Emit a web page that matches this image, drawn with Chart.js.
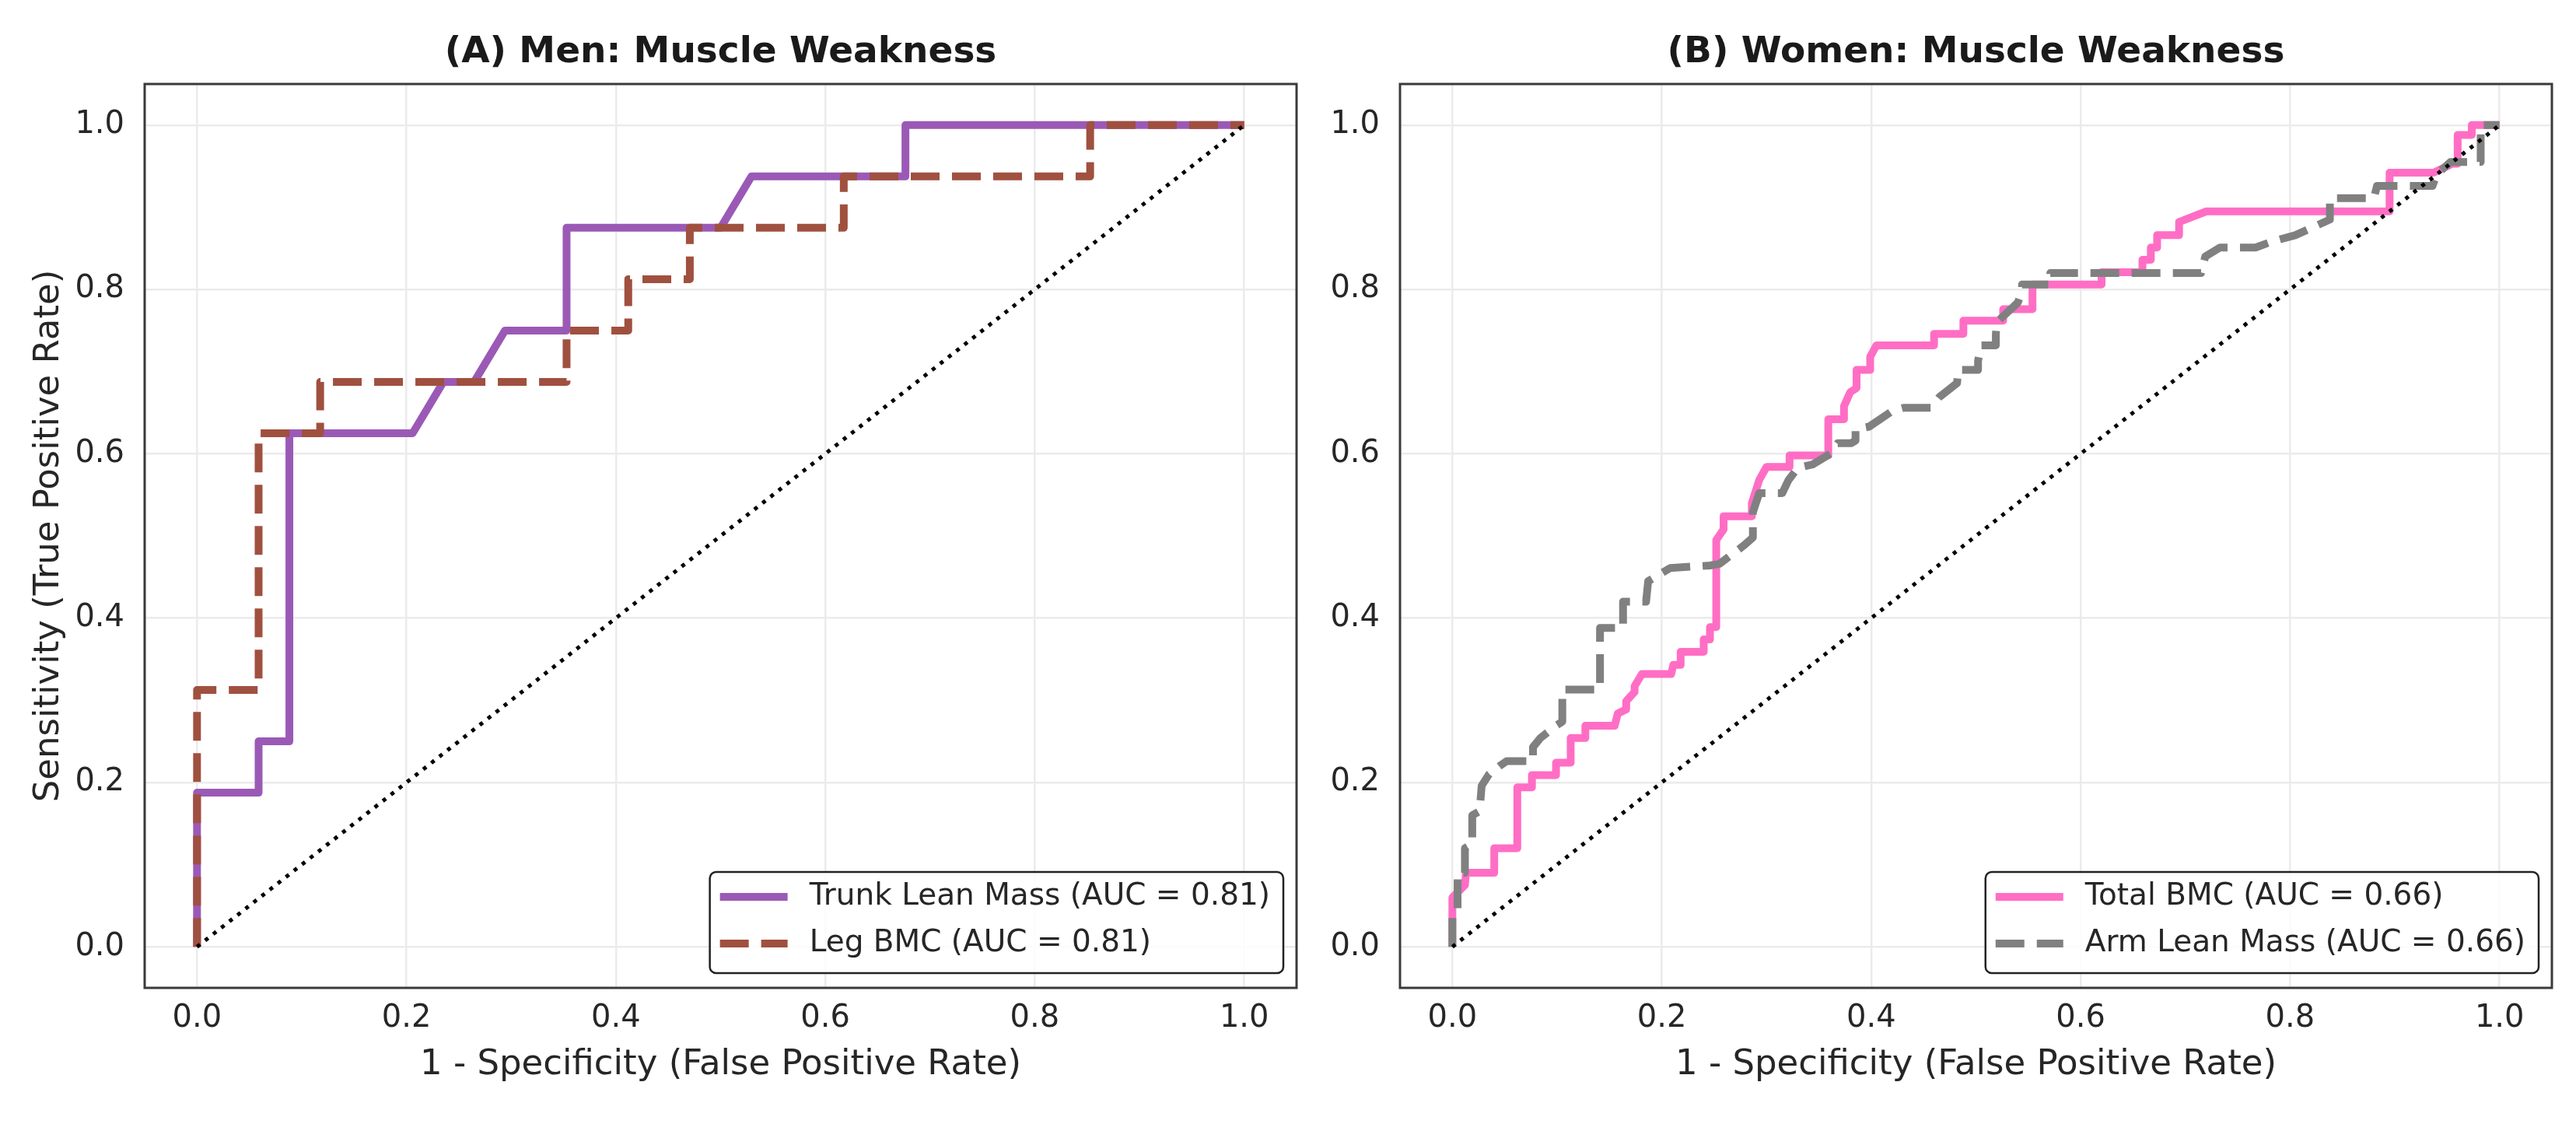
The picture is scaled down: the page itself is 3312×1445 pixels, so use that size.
<!DOCTYPE html>
<html>
<head>
<meta charset="utf-8">
<script src="https://cdn.jsdelivr.net/npm/chart.js@4.4.1/dist/chart.umd.min.js"></script>
<style>
html, body { margin: 0; padding: 0; background: #ffffff; width: 3312px; height: 1445px; overflow: hidden; }
#wrapA { position: absolute; left: 0; top: 0; width: 1690px; height: 1445px; }
#wrapB { position: absolute; left: 1690px; top: 0; width: 1622px; height: 1445px; }
canvas { display: block; }
</style>
</head>
<body>
<div id="wrapA"><canvas id="chartA" width="1690" height="1445" style="width:1690px;height:1445px"></canvas></div>
<div id="wrapB"><canvas id="chartB" width="1622" height="1445" style="width:1622px;height:1445px"></canvas></div>
<script>
// ---------- data ----------
const tickValues = [0, 0.2, 0.4, 0.6, 0.8, 1.0];
const tickLabels = ['0.0', '0.2', '0.4', '0.6', '0.8', '1.0'];

const titleMen = '(A) Men: Muscle Weakness';
const titleWomen = '(B) Women: Muscle Weakness';
const xAxisLabel = '1 - Specificity (False Positive Rate)';
const yAxisLabel = 'Sensitivity (True Positive Rate)';

const chanceFpr = [0, 1];
const chanceTpr = [0, 1];

const menTrunkLabel = 'Trunk Lean Mass (AUC = 0.81)';
const menTrunkFpr = [0, 0, 0.0588, 0.0588, 0.0882, 0.0882, 0.2059, 0.2353, 0.2647, 0.2941, 0.3529, 0.3529, 0.5, 0.5294, 0.6765, 0.6765, 1.0];
const menTrunkTpr = [0, 0.1875, 0.1875, 0.25, 0.25, 0.625, 0.625, 0.6875, 0.6875, 0.75, 0.75, 0.875, 0.875, 0.9375, 0.9375, 1.0, 1.0];

const menLegLabel = 'Leg BMC (AUC = 0.81)';
const menLegFpr = [0, 0, 0.0588, 0.0588, 0.1176, 0.1176, 0.3529, 0.3529, 0.4118, 0.4118, 0.4706, 0.4706, 0.6176, 0.6176, 0.8529, 0.8529, 1.0];
const menLegTpr = [0, 0.3125, 0.3125, 0.625, 0.625, 0.6875, 0.6875, 0.75, 0.75, 0.8125, 0.8125, 0.875, 0.875, 0.9375, 0.9375, 1.0, 1.0];

const womenBmcLabel = 'Total BMC (AUC = 0.66)';
const womenBmcFpr = [
  0, 0, 0.012, 0.013, 0.04, 0.04, 0.062, 0.062, 0.076, 0.076,
  0.099, 0.099, 0.113, 0.113, 0.127, 0.127, 0.155, 0.158, 0.166, 0.166,
  0.174, 0.174, 0.181, 0.209, 0.211, 0.218, 0.218, 0.240, 0.240, 0.246,
  0.246, 0.252, 0.252, 0.259, 0.259, 0.286, 0.286, 0.293, 0.300, 0.322,
  0.322, 0.359, 0.359, 0.374, 0.374, 0.380, 0.386, 0.386, 0.399, 0.399,
  0.405, 0.460, 0.460, 0.488, 0.488, 0.526, 0.526, 0.554, 0.554, 0.620,
  0.620, 0.659, 0.659, 0.667, 0.667, 0.673, 0.673, 0.694, 0.694, 0.720,
  0.895, 0.895, 0.937, 0.955, 0.960, 0.960, 0.9735, 0.9735, 1.0
];
const womenBmcTpr = [
  0, 0.06, 0.075, 0.09, 0.09, 0.12, 0.12, 0.194, 0.194, 0.209,
  0.209, 0.224, 0.224, 0.254, 0.254, 0.269, 0.269, 0.284, 0.289, 0.299,
  0.31, 0.317, 0.332, 0.332, 0.343, 0.343, 0.359, 0.359, 0.374, 0.374,
  0.389, 0.389, 0.495, 0.508, 0.524, 0.524, 0.540, 0.568, 0.584, 0.584,
  0.598, 0.598, 0.642, 0.642, 0.658, 0.675, 0.680, 0.702, 0.702, 0.718,
  0.732, 0.732, 0.746, 0.746, 0.762, 0.762, 0.776, 0.776, 0.806, 0.806,
  0.821, 0.821, 0.836, 0.836, 0.851, 0.851, 0.866, 0.866, 0.882, 0.895,
  0.895, 0.942, 0.942, 0.953, 0.953, 0.988, 0.988, 1.0, 1.0
];

const womenArmLabel = 'Arm Lean Mass (AUC = 0.66)';
const womenArmFpr = [
  0, 0, 0.005, 0.005, 0.012, 0.012, 0.019, 0.019, 0.026, 0.028,
  0.035, 0.045, 0.052, 0.077, 0.077, 0.084, 0.100, 0.105, 0.105, 0.141,
  0.141, 0.163, 0.163, 0.185, 0.187, 0.208, 0.246, 0.255, 0.279, 0.287,
  0.287, 0.293, 0.315, 0.321, 0.330, 0.344, 0.361, 0.368, 0.381, 0.385,
  0.385, 0.398, 0.420, 0.431, 0.457, 0.465, 0.482, 0.483, 0.502, 0.502,
  0.505, 0.519, 0.519, 0.520, 0.540, 0.544, 0.544, 0.571, 0.571, 0.715,
  0.719, 0.733, 0.767, 0.782, 0.805, 0.819, 0.838, 0.838, 0.880, 0.883,
  0.936, 0.940, 0.953, 0.982, 0.982, 1.0
];
const womenArmTpr = [
  0, 0.04, 0.045, 0.09, 0.09, 0.12, 0.125, 0.16, 0.165, 0.196,
  0.21, 0.22, 0.226, 0.226, 0.243, 0.254, 0.270, 0.274, 0.313, 0.313,
  0.388, 0.388, 0.420, 0.420, 0.445, 0.461, 0.464, 0.466, 0.489, 0.498,
  0.529, 0.552, 0.552, 0.568, 0.583, 0.587, 0.600, 0.613, 0.613, 0.616,
  0.630, 0.633, 0.652, 0.656, 0.656, 0.669, 0.686, 0.702, 0.702, 0.713,
  0.732, 0.732, 0.746, 0.760, 0.784, 0.798, 0.806, 0.806, 0.820, 0.820,
  0.840, 0.851, 0.851, 0.858, 0.866, 0.874, 0.885, 0.911, 0.911, 0.926,
  0.926, 0.940, 0.955, 0.955, 1.0, 1.0
];

// ---------- helpers ----------
const FONT = "'DejaVu Sans', 'Liberation Sans', sans-serif";
Chart.defaults.font.family = FONT;
Chart.defaults.color = '#262626';

function pts(xs, ys) { return xs.map((x, i) => ({ x: x, y: ys[i] })); }

const framePlugin = {
  id: 'frame',
  afterDatasetsDraw(chart) {
    const { ctx, chartArea: a } = chart;
    ctx.save();
    ctx.strokeStyle = '#3a3a3a';
    ctx.lineWidth = 3;
    ctx.strokeRect(a.left, a.top, a.right - a.left, a.bottom - a.top);
    ctx.restore();
  }
};

const boxLegendPlugin = {
  id: 'boxLegend',
  afterDraw(chart, args, o) {
    const { ctx, chartArea: a } = chart;
    const items = chart.data.datasets
      .filter(d => d.legendRank !== undefined)
      .sort((p, q) => p.legendRank - q.legendRank);
    ctx.save();
    ctx.font = o.fontSize + 'px ' + FONT;
    const textW = Math.max(...items.map(d => ctx.measureText(d.label).width));
    const w = o.pad + o.sample + o.gap + textW + o.padR;
    const h = o.height;
    const right = a.right - o.insetX, bottom = a.bottom - o.insetY;
    const left = right - w, top = bottom - h;
    ctx.beginPath();
    ctx.roundRect(left, top, w, h, 8);
    ctx.fillStyle = 'rgba(255,255,255,0.85)';
    ctx.fill();
    ctx.lineWidth = 2.5;
    ctx.strokeStyle = '#222222';
    ctx.stroke();
    items.forEach((d, i) => {
      const cy = top + o.firstRow + i * o.rowGap;
      ctx.beginPath();
      ctx.setLineDash(d.borderDash || []);
      ctx.lineCap = 'butt';
      ctx.strokeStyle = d.borderColor;
      ctx.lineWidth = d.borderWidth;
      ctx.moveTo(left + o.pad, cy);
      ctx.lineTo(left + o.pad + o.sample, cy);
      ctx.stroke();
      ctx.setLineDash([]);
      ctx.fillStyle = '#262626';
      ctx.textBaseline = 'middle';
      ctx.textAlign = 'left';
      ctx.fillText(d.label, left + o.pad + o.sample + o.gap, cy);
    });
    ctx.restore();
  }
};

function makeChart(canvasId, title, curves, yAxisWidth, padRight, showYTitle) {
  const datasets = [
    {
      label: 'Chance', data: pts(chanceFpr, chanceTpr), borderColor: '#000000', borderWidth: 5,
      borderDash: [5, 8.2], pointRadius: 0, tension: 0, order: 0, fill: false
    },
    {
      label: curves[1].label, data: pts(curves[1].fpr, curves[1].tpr), borderColor: curves[1].color,
      borderWidth: 10, borderDash: [37, 16], pointRadius: 0, tension: 0, order: 1, legendRank: 1,
      borderJoinStyle: 'round', fill: false
    },
    {
      label: curves[0].label, data: pts(curves[0].fpr, curves[0].tpr), borderColor: curves[0].color,
      borderWidth: 10, pointRadius: 0, tension: 0, order: 2, legendRank: 0,
      borderJoinStyle: 'round', fill: false
    }
  ];
  return new Chart(document.getElementById(canvasId), {
    type: 'line',
    data: { datasets: datasets },
    options: {
      responsive: false,
      animation: false,
      events: [],
      layout: { padding: { left: 0, right: padRight, top: 0, bottom: 0 } },
      plugins: {
        legend: { display: false },
        tooltip: { enabled: false },
        title: {
          display: true, text: title, fullSize: false, color: '#1a1a1a',
          font: { size: 47, weight: 'bold', family: FONT },
          padding: { top: 39.5, bottom: 12.1 }
        },
        boxLegend: {
          fontSize: 39, pad: 13, sample: 87, gap: 28, padR: 17, height: 130,
          firstRow: 32, rowGap: 60, insetX: 17, insetY: 19
        }
      },
      scales: {
        x: {
          type: 'linear', position: 'bottom', min: -0.05, max: 1.05,
          afterBuildTicks: s => { s.ticks = tickValues.map(v => ({ value: v })); },
          afterFit: s => { s.height = 175; },
          ticks: {
            callback: (v, i) => tickLabels[i], font: { size: 40 }, padding: 16,
            maxRotation: 0, autoSkip: false, color: '#262626'
          },
          grid: { color: '#ebebeb', lineWidth: 2.5, drawTicks: false },
          border: { display: false },
          title: {
            display: true, text: xAxisLabel, font: { size: 45 }, color: '#262626',
            padding: { top: 0, bottom: 49 }
          }
        },
        y: {
          type: 'linear', position: 'left', min: -0.05, max: 1.05,
          afterBuildTicks: s => { s.ticks = tickValues.map(v => ({ value: v })); },
          afterFit: s => { s.width = yAxisWidth; },
          ticks: {
            callback: (v, i) => tickLabels[i], font: { size: 40 }, padding: 26,
            autoSkip: false, color: '#262626'
          },
          grid: { color: '#ebebeb', lineWidth: 2.5, drawTicks: false },
          border: { display: false },
          title: {
            display: showYTitle, text: yAxisLabel, font: { size: 45 }, color: '#262626',
            padding: { top: 36, bottom: 0 }
          }
        }
      }
    },
    plugins: [framePlugin, boxLegendPlugin]
  });
}

makeChart('chartA', titleMen, [
  { label: menTrunkLabel, fpr: menTrunkFpr, tpr: menTrunkTpr, color: '#9B59B6' },
  { label: menLegLabel, fpr: menLegFpr, tpr: menLegTpr, color: '#A0503F' }
], 186, 23, true);

makeChart('chartB', titleWomen, [
  { label: womenBmcLabel, fpr: womenBmcFpr, tpr: womenBmcTpr, color: '#FF6EC4' },
  { label: womenArmLabel, fpr: womenArmFpr, tpr: womenArmTpr, color: '#808080' }
], 110, 31, false);
</script>
</body>
</html>
